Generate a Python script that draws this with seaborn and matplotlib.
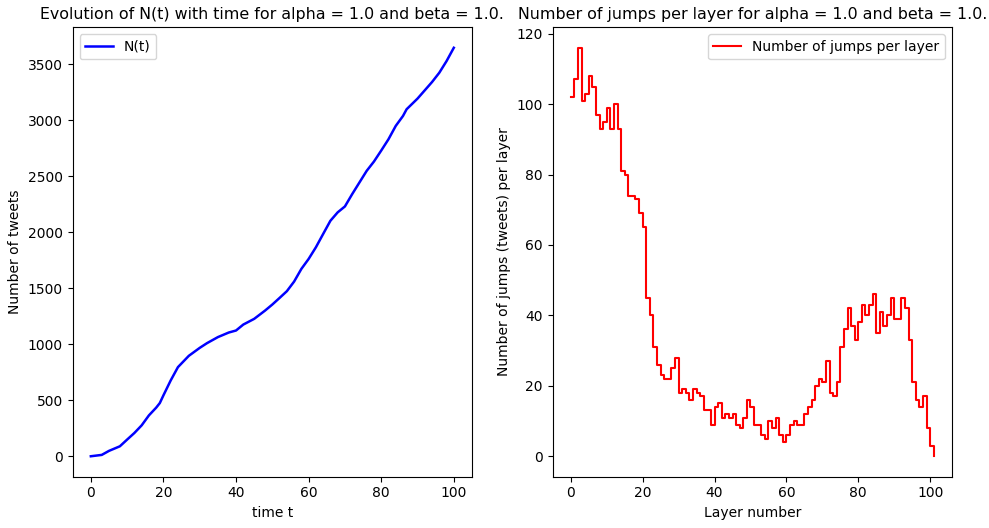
import numpy as np
import pandas as pd
import matplotlib
matplotlib.use("Agg")
import matplotlib.pyplot as plt
import seaborn as sns

# Left panel: N(t)
t_vals = [0, 3, 5, 8, 10, 12, 14, 16, 18, 19, 20, 22, 24, 27, 30, 32, 35, 38, 40,
          42, 45, 48, 50, 52, 54, 56, 58, 60, 62, 64, 66, 68, 70, 72, 74, 76, 78,
          80, 82, 84, 86, 87, 90, 92, 94, 96, 98, 100]
n_vals = [0, 12, 48, 89, 149, 208, 276, 365, 434, 475, 544, 677, 796, 897, 968,
          1010, 1064, 1105, 1123, 1176, 1227, 1301, 1355, 1414, 1474, 1560, 1673,
          1762, 1866, 1985, 2103, 2178, 2231, 2341, 2445, 2549, 2632, 2730, 2831,
          2950, 3039, 3099, 3194, 3268, 3342, 3425, 3529, 3648]

# Right panel: jumps per layer
layers = list(range(0, 102))
jumps = [102, 107, 116, 101, 103, 108, 105, 97, 93, 95, 99, 93, 100, 93,
         81, 80, 74, 74, 73, 69, 65, 45, 40, 31, 26, 23, 22, 22, 25, 28,
         18, 19, 18, 16, 19, 18, 17, 13, 13, 9, 14, 15, 11, 12, 11, 12, 9, 8, 11, 16,
         14, 9, 9, 6, 5, 10, 8, 11, 6, 4,
         6, 9, 10, 9, 9, 12, 14, 16, 20, 22, 21, 27, 18, 17, 21, 31, 36, 42, 37, 33,
         38, 43, 40, 43, 46, 35, 41, 37, 40, 45, 39, 39, 45, 42, 33, 21, 16, 14, 17, 8,
         3, 0]

df_n = pd.DataFrame({"t": t_vals, "N": n_vals})
df_j = pd.DataFrame({"layer": layers, "jumps": jumps})

fig = plt.figure(figsize=(9.89, 5.28), dpi=100)
ax1 = fig.add_axes([0.0735, 0.0972, 0.4037, 0.851])
ax2 = fig.add_axes([0.5588, 0.0972, 0.4037, 0.851])

sns.lineplot(data=df_n, x="t", y="N", ax=ax1, color="blue", linewidth=1.8,
             label="N(t)")
ax1.set_title("Evolution of N(t) with time for alpha = 1.0 and beta = 1.0.",
              fontsize=11.4)
ax1.set_xlabel("time t")
ax1.set_ylabel("Number of tweets")
ax1.legend(loc="upper left")

sns.lineplot(data=df_j, x="layer", y="jumps", ax=ax2, color="red", linewidth=1.5,
             drawstyle="steps-post", label="Number of jumps per layer")
ax2.set_title("Number of jumps per layer for alpha = 1.0 and beta = 1.0.",
              fontsize=11.4)
ax2.set_xlabel("Layer number")
ax2.set_ylabel("Number of jumps (tweets) per layer")
ax2.set_xticks([0, 20, 40, 60, 80, 100])
ax2.legend(loc="upper right")

fig.savefig("out.png", dpi=100)
